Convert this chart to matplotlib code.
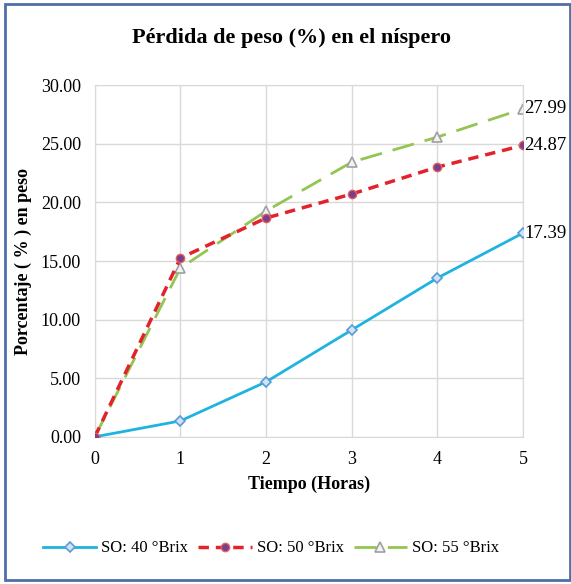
import matplotlib.pyplot as plt
from matplotlib.patches import Rectangle

plt.rcParams['font.family'] = ['Liberation Serif', 'DejaVu Serif']

horas = [0, 1, 2, 3, 4, 5]
so40 = [0.0, 1.36, 4.69, 9.12, 13.55, 17.39]
so50 = [0.0, 15.26, 18.67, 20.72, 23.02, 24.87]
so55 = [0.0, 14.40, 19.27, 23.44, 25.58, 27.99]
yticks = [0, 5, 10, 15, 20, 25, 30]

fig = plt.figure(figsize=(5.71, 5.84), dpi=100)
ax = fig.add_axes([0.166, 0.252, 0.750, 0.602])

# frame around chart
fig.patches.append(Rectangle((0.008, 0.006), 0.99, 0.988, transform=fig.transFigure,
                             fill=False, edgecolor='#4f6fa8', linewidth=2))

ax.plot(horas, so40, color='#1fb3e0', lw=2, marker='D', ms=5,
        mfc='#cfe3f7', mec='#5b9bd5', mew=1.2, label='SO: 40 °Brix', zorder=3)
ax.plot(horas, so50, color='#e3222b', lw=2.5, dashes=(3, 2), marker='o', ms=6,
        mfc='#7a3e8a', mec='#e06060', mew=1, label='SO: 50 °Brix', zorder=3)
ax.plot(horas, so55, color='#92c552', lw=2, dashes=(8, 4), marker='^', ms=7,
        mfc='#f2f2f2', mec='#a0a0a0', mew=1.2, label='SO: 55 °Brix', zorder=2)

for serie in (so40, so50, so55):
    ax.annotate('%.2f' % serie[-1], (horas[-1], serie[-1]), xytext=(1, 0),
                textcoords='offset points', va='center', ha='left', fontsize=13.5)

ax.set_xlim(0, 5)
ax.set_ylim(0, 30)
ax.set_xticks(horas)
ax.set_yticks(yticks)
ax.set_yticklabels(['%.2f' % v for v in yticks])
ax.grid(True, color='#d9d9d9', lw=1)
for s in ax.spines.values():
    s.set_color('#d9d9d9')
ax.tick_params(axis='x', length=0, labelsize=13, pad=10)
ax.tick_params(axis='y', length=0, labelsize=13, pad=10)
ax.set_axisbelow(True)

ax.set_xlabel('Tiempo (Horas)', fontsize=13, fontweight='bold', labelpad=6)
ax.set_ylabel('Porcentaje ( % ) en peso', fontsize=13, fontweight='bold', labelpad=6)
fig.text(0.51, 0.935, 'Pérdida de peso (%) en el níspero', ha='center', va='center',
         fontsize=16, fontweight='bold')

fig.legend(loc='center', bbox_to_anchor=(0.475, 0.061), ncol=3, frameon=False,
           fontsize=12, handlelength=3.2, columnspacing=0.6, handletextpad=0.3)

fig.savefig('out.png', dpi=100)
